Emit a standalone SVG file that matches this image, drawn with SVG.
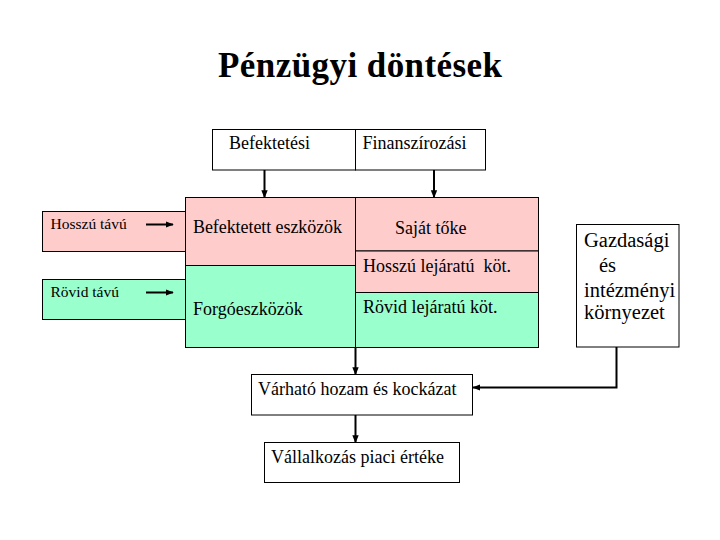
<svg xmlns="http://www.w3.org/2000/svg" width="720" height="540" viewBox="0 0 720 540">
<defs>
<marker id="ah" viewBox="0 0 10 10" refX="9" refY="5" markerWidth="4" markerHeight="4" orient="auto" markerUnits="strokeWidth">
<path d="M0,1 L10,5 L0,9 z" fill="#000"/>
</marker>
<style>
.t{font-family:"Liberation Serif","Times New Roman",serif;fill:#000}
.box{stroke:#000;stroke-width:1}
.pink{fill:#FFCCCC}
.green{fill:#99FFCC}
.white{fill:#fff}
.con{stroke:#000;stroke-width:2;fill:none}
.arr{marker-end:url(#ah)}
</style>
</defs>
<rect width="720" height="540" fill="#fff"/>
<text class="t" x="218" y="77" font-size="35" font-weight="bold" textLength="284">Pénzügyi döntések</text>

<g id="hosszu-tavu">
<rect class="box pink" x="42.5" y="211.5" width="143" height="40"/>
<text class="t" x="50.5" y="229" font-size="15.5">Hosszú távú</text>
</g>
<g id="rovid-tavu">
<rect class="box green" x="42.5" y="279.5" width="143" height="40"/>
<text class="t" x="50.5" y="297" font-size="15.5">Rövid távú</text>
</g>

<g id="befektetesi">
<rect class="box white" x="212.5" y="129.5" width="143" height="40.5"/>
<text class="t" x="229" y="149" font-size="18">Befektetési</text>
</g>
<g id="finanszirozasi">
<rect class="box white" x="355.5" y="129.5" width="130" height="40.5"/>
<text class="t" x="362.5" y="149" font-size="18">Finanszírozási</text>
</g>

<g id="befektetett-eszkozok">
<rect class="box pink" x="185.5" y="197.5" width="170" height="68"/>
<text class="t" x="193" y="233" font-size="18" textLength="149">Befektetett eszközök</text>
</g>
<g id="forgoeszkozok">
<rect class="box green" x="185.5" y="265.5" width="170" height="82"/>
<text class="t" x="193" y="314.5" font-size="18">Forgóeszközök</text>
</g>
<g id="sajat-toke">
<rect class="box pink" x="355.5" y="197.5" width="183" height="53.5"/>
<text class="t" x="395" y="234" font-size="18">Saját tőke</text>
</g>
<g id="hosszu-lejaratu">
<rect class="box pink" x="355.5" y="251" width="183" height="41.5"/>
<text class="t" x="363" y="272" font-size="18" xml:space="preserve">Hosszú lejáratú  köt.</text>
</g>
<g id="rovid-lejaratu">
<rect class="box green" x="355.5" y="292.5" width="183" height="55"/>
<text class="t" x="363" y="312.5" font-size="18">Rövid lejáratú köt.</text>
</g>

<g id="varhato">
<rect class="box white" x="251.5" y="374.5" width="221" height="40.5"/>
<text class="t" x="258" y="395" font-size="18">Várható hozam és kockázat</text>
</g>
<g id="vallalkozas">
<rect class="box white" x="264.5" y="442.5" width="195" height="40"/>
<text class="t" x="271" y="463" font-size="18">Vállalkozás piaci értéke</text>
</g>

<g id="gazdasagi">
<rect class="box white" x="576.5" y="224.5" width="102.5" height="122.5"/>
<text class="t" font-size="20.5">
<tspan x="584" y="247">Gazdasági</tspan>
<tspan x="599" y="272">és</tspan>
<tspan x="584" y="296.5">intézményi</tspan>
<tspan x="584" y="319">környezet</tspan>
</text>
</g>

<g id="connectors">
<line class="con arr" x1="146" y1="224.5" x2="173" y2="224.5"/>
<line class="con arr" x1="146" y1="292.5" x2="173" y2="292.5"/>
<line class="con arr" x1="264.5" y1="170" x2="264.5" y2="197.5"/>
<line class="con arr" x1="434" y1="170" x2="434" y2="197.5"/>
<line class="con arr" x1="355.5" y1="347.5" x2="355.5" y2="374.5"/>
<line class="con arr" x1="355.5" y1="415" x2="355.5" y2="442.5"/>
<polyline class="con arr" points="616.5,347 616.5,387.5 473,387.5"/>
</g>
</svg>
